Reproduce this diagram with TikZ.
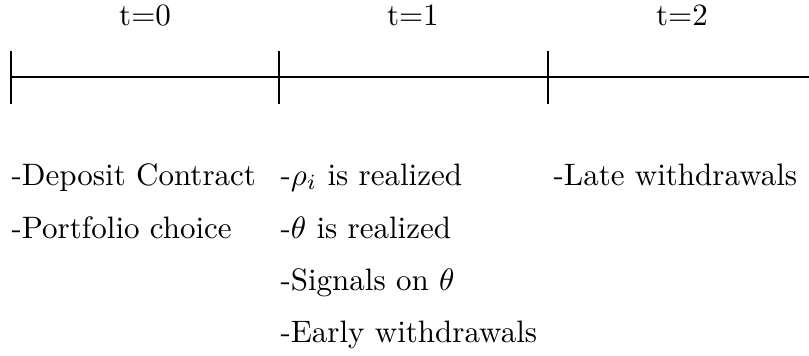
\documentclass[tikz,border=0pt]{standalone}
\usepackage{amsmath}
\usetikzlibrary{positioning,calc}
\tikzset{
  axisline/.style={line width=0.4pt},
  tickmark/.style={line width=0.4pt},
  period/.style={anchor=base, inner sep=0pt},
  event/.style={anchor=base west, inner sep=0pt},
}

\begin{document}
\begin{tikzpicture}[x=1pt,y=1pt]
    \useasboundingbox (0,0) rectangle (261,-114.85);
    % time axis
    \coordinate (p0) at (3.55,-24.84);
    \coordinate (p1) at (90.0,-24.84);
    \coordinate (p2) at (176.8,-24.84);
    \coordinate (pend) at (261,-24.84);
    \draw[axisline] (p0) -- (pend);
    \foreach \p in {p0,p1,p2}
      \draw[tickmark] ([yshift=8.4pt]\p) -- ([yshift=-8.7pt]\p);
    % dates
    \node[period] (lab0) at (46.8,-8.07) {t=0};
    \node[period] (lab1) at (133.2,-8.07) {t=1};
    \node[period] (lab2) at (220.0,-8.07) {t=2};
    % what happens at each date
    \node[event] (deposit) at (3.55,-59.7) {-Deposit Contract};
    \node[event] (portfolio) at (3.55,-76.8) {-Portfolio choice};
    \node[event] (rho) at (90.3,-59.7) {-$\rho_i$ is realized};
    \node[event] (theta) at (90.3,-76.8) {-$\theta$ is realized};
    \node[event] (signals) at (90.3,-93.6) {-Signals on $\theta$};
    \node[event] (early) at (90.3,-110.6) {-Early withdrawals};
    \node[event] (late) at (178.4,-59.7) {-Late withdrawals};
\end{tikzpicture}
\end{document}
